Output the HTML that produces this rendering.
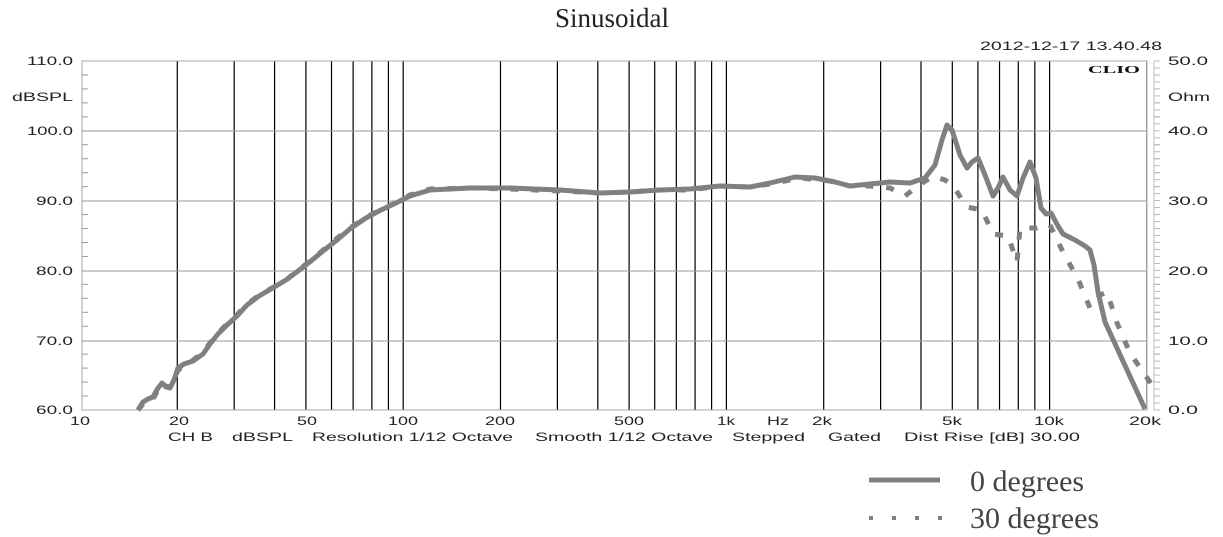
<!DOCTYPE html>
<html><head><meta charset="utf-8"><style>
html,body{margin:0;padding:0;background:#fff;}
svg{display:block;}
.s{font-family:"Liberation Sans",sans-serif;font-size:12px;fill:#222;}
</style></head><body>
<svg id="c" width="1223" height="537" viewBox="0 0 1223 537" xmlns="http://www.w3.org/2000/svg">
<text x="612" y="27" text-anchor="middle" font-family="Liberation Serif,serif" font-size="27" fill="#222">Sinusoidal</text>
<g id="grid"></g>
<rect x="82" y="61" width="1065" height="349" fill="none" stroke="#aaa" stroke-width="1"/>
<line x1="82" y1="131" x2="1147" y2="131" stroke="#999"/>
<line x1="82" y1="201" x2="1147" y2="201" stroke="#999"/>
<line x1="82" y1="271" x2="1147" y2="271" stroke="#999"/>
<line x1="82" y1="341" x2="1147" y2="341" stroke="#999"/>
<g id="ticks" stroke="#999"></g>
<text x="1088" y="73" textLength="52" lengthAdjust="spacingAndGlyphs" font-family="Liberation Serif,serif" font-weight="bold" font-size="11" fill="#111">CLIO</text>
<g class="s">
<text x="980" y="50" textLength="182" lengthAdjust="spacingAndGlyphs">2012-12-17 13.40.48</text>
<text x="27" y="65" textLength="46" lengthAdjust="spacingAndGlyphs">110.0</text>
<text x="12" y="101" textLength="61" lengthAdjust="spacingAndGlyphs">dBSPL</text>
<text x="27" y="135" textLength="46" lengthAdjust="spacingAndGlyphs">100.0</text>
<text x="36" y="205" textLength="37" lengthAdjust="spacingAndGlyphs">90.0</text>
<text x="36" y="275" textLength="37" lengthAdjust="spacingAndGlyphs">80.0</text>
<text x="36" y="345" textLength="37" lengthAdjust="spacingAndGlyphs">70.0</text>
<text x="36" y="414" textLength="37" lengthAdjust="spacingAndGlyphs">60.0</text>
<text x="1168" y="65" textLength="40" lengthAdjust="spacingAndGlyphs">50.0</text>
<text x="1168" y="101" textLength="42" lengthAdjust="spacingAndGlyphs">Ohm</text>
<text x="1168" y="135" textLength="40" lengthAdjust="spacingAndGlyphs">40.0</text>
<text x="1168" y="205" textLength="40" lengthAdjust="spacingAndGlyphs">30.0</text>
<text x="1168" y="275" textLength="40" lengthAdjust="spacingAndGlyphs">20.0</text>
<text x="1168" y="345" textLength="40" lengthAdjust="spacingAndGlyphs">10.0</text>
<text x="1168" y="414" textLength="30" lengthAdjust="spacingAndGlyphs">0.0</text>
<text x="70" y="425" textLength="20" lengthAdjust="spacingAndGlyphs">10</text>
<text x="169" y="425" textLength="20" lengthAdjust="spacingAndGlyphs">20</text>
<text x="297" y="425" textLength="20" lengthAdjust="spacingAndGlyphs">50</text>
<text x="388" y="425" textLength="30" lengthAdjust="spacingAndGlyphs">100</text>
<text x="485" y="425" textLength="30" lengthAdjust="spacingAndGlyphs">200</text>
<text x="614" y="425" textLength="30" lengthAdjust="spacingAndGlyphs">500</text>
<text x="717" y="425" textLength="18" lengthAdjust="spacingAndGlyphs">1k</text>
<text x="767" y="425" textLength="22" lengthAdjust="spacingAndGlyphs">Hz</text>
<text x="812" y="425" textLength="20" lengthAdjust="spacingAndGlyphs">2k</text>
<text x="942" y="425" textLength="20" lengthAdjust="spacingAndGlyphs">5k</text>
<text x="1034" y="425" textLength="30" lengthAdjust="spacingAndGlyphs">10k</text>
<text x="1129" y="425" textLength="32" lengthAdjust="spacingAndGlyphs">20k</text>
<text x="168" y="441" textLength="45" lengthAdjust="spacingAndGlyphs">CH B</text>
<text x="232" y="441" textLength="61" lengthAdjust="spacingAndGlyphs">dBSPL</text>
<text x="312" y="441" textLength="201" lengthAdjust="spacingAndGlyphs">Resolution 1/12 Octave</text>
<text x="535" y="441" textLength="178" lengthAdjust="spacingAndGlyphs">Smooth 1/12 Octave</text>
<text x="732" y="441" textLength="73" lengthAdjust="spacingAndGlyphs">Stepped</text>
<text x="828" y="441" textLength="53" lengthAdjust="spacingAndGlyphs">Gated</text>
<text x="904" y="441" textLength="176" lengthAdjust="spacingAndGlyphs">Dist Rise [dB] 30.00</text>
</g>
<polyline fill="none" stroke="#808080" stroke-width="5" stroke-dasharray="8 13" stroke-linejoin="round" points="138,410 143,404 150,404 157,392 162,383 167,387 172,386 177,372 182,366 192,361 203,352 210,343 217,334 226,325 236,316 246,305 258,296 270,289 285,281 297,271 310,261 322,251 336,239 350,228 365,218 380,210 395,203 410,195 430,189 470,188 510,189 560,191 600,193 630,192 660,190 690,190 720,186 750,187 770,184 800,178 830,181 850,186 870,186 890,188 905,196 915,188 933,176 945,180 953,186 967,207 982,210 993,234 1008,236 1017,262 1020,228 1037,228 1050,225 1063,252 1078,279 1090,308 1100,295 1107,292 1117,323 1130,353 1152,385"/>
<polyline fill="none" stroke="#808080" stroke-width="5" stroke-linejoin="round" points="138,410 143,402 148,399 153,397 158,388 162,383 166,387 170,388 174,380 178,368 184,364 193,361 203,354 210,344 218,334 227,325 237,316 247,305 259,296 271,289 286,280 298,271 311,261 323,251 337,240 351,228 366,218 381,210 396,203 410,196 430,190 470,188 510,188 560,190 600,193 630,192 660,190 690,189 720,186 750,187 770,183 795,177 815,178 835,182 850,186 870,184 890,182 910,183 925,178 935,165 942,140 947,125 952,130 960,155 967,168 972,162 978,158 985,175 993,196 998,188 1003,177 1010,190 1017,196 1023,178 1030,162 1036,178 1041,208 1046,214 1051,213 1058,226 1063,234 1075,240 1085,246 1090,250 1094,265 1098,292 1105,322 1145,409"/>
<line x1="869" y1="480" x2="940" y2="480" stroke="#808080" stroke-width="5"/>
<line x1="869" y1="518" x2="942" y2="518" stroke="#808080" stroke-width="4" stroke-dasharray="4 19"/>
<text x="970" y="491" font-family="Liberation Serif,serif" font-size="30" fill="#444">0 degrees</text>
<text x="970" y="528" font-family="Liberation Serif,serif" font-size="30" fill="#444">30 degrees</text>
</svg>
<script>
var g=document.getElementById('grid'),t=document.getElementById('ticks'),ns='http://www.w3.org/2000/svg';
function L(p,a,b,c,d,s,w){var l=document.createElementNS(ns,'line');l.setAttribute('x1',a);l.setAttribute('y1',b);l.setAttribute('x2',c);l.setAttribute('y2',d);l.setAttribute('stroke',s);l.setAttribute('stroke-width',w);p.appendChild(l);}
var fs=[20,30,40,50,60,70,80,90,100,200,300,400,500,600,700,800,900,1000,2000,3000,4000,5000,6000,7000,8000,9000,10000,20000];
fs.forEach(function(f){var x=80+323.2*Math.log10(f/10);L(g,x,61,x,410,'#000',1.2);});
for(var i=1;i<25;i++){if(i%5==0)continue;var y=61+i*349/25;L(t,82,y,88,y,'#999',1);L(t,1154,y,1160,y,'#999',1);}
for(var i=0;i<=50;i++){var y=61+i*349/50;L(t,1154,y,1160,y,'#bbb',1);}
L(t,1154,61,1154,410,'#bbb',1);
</script>
</body></html>
